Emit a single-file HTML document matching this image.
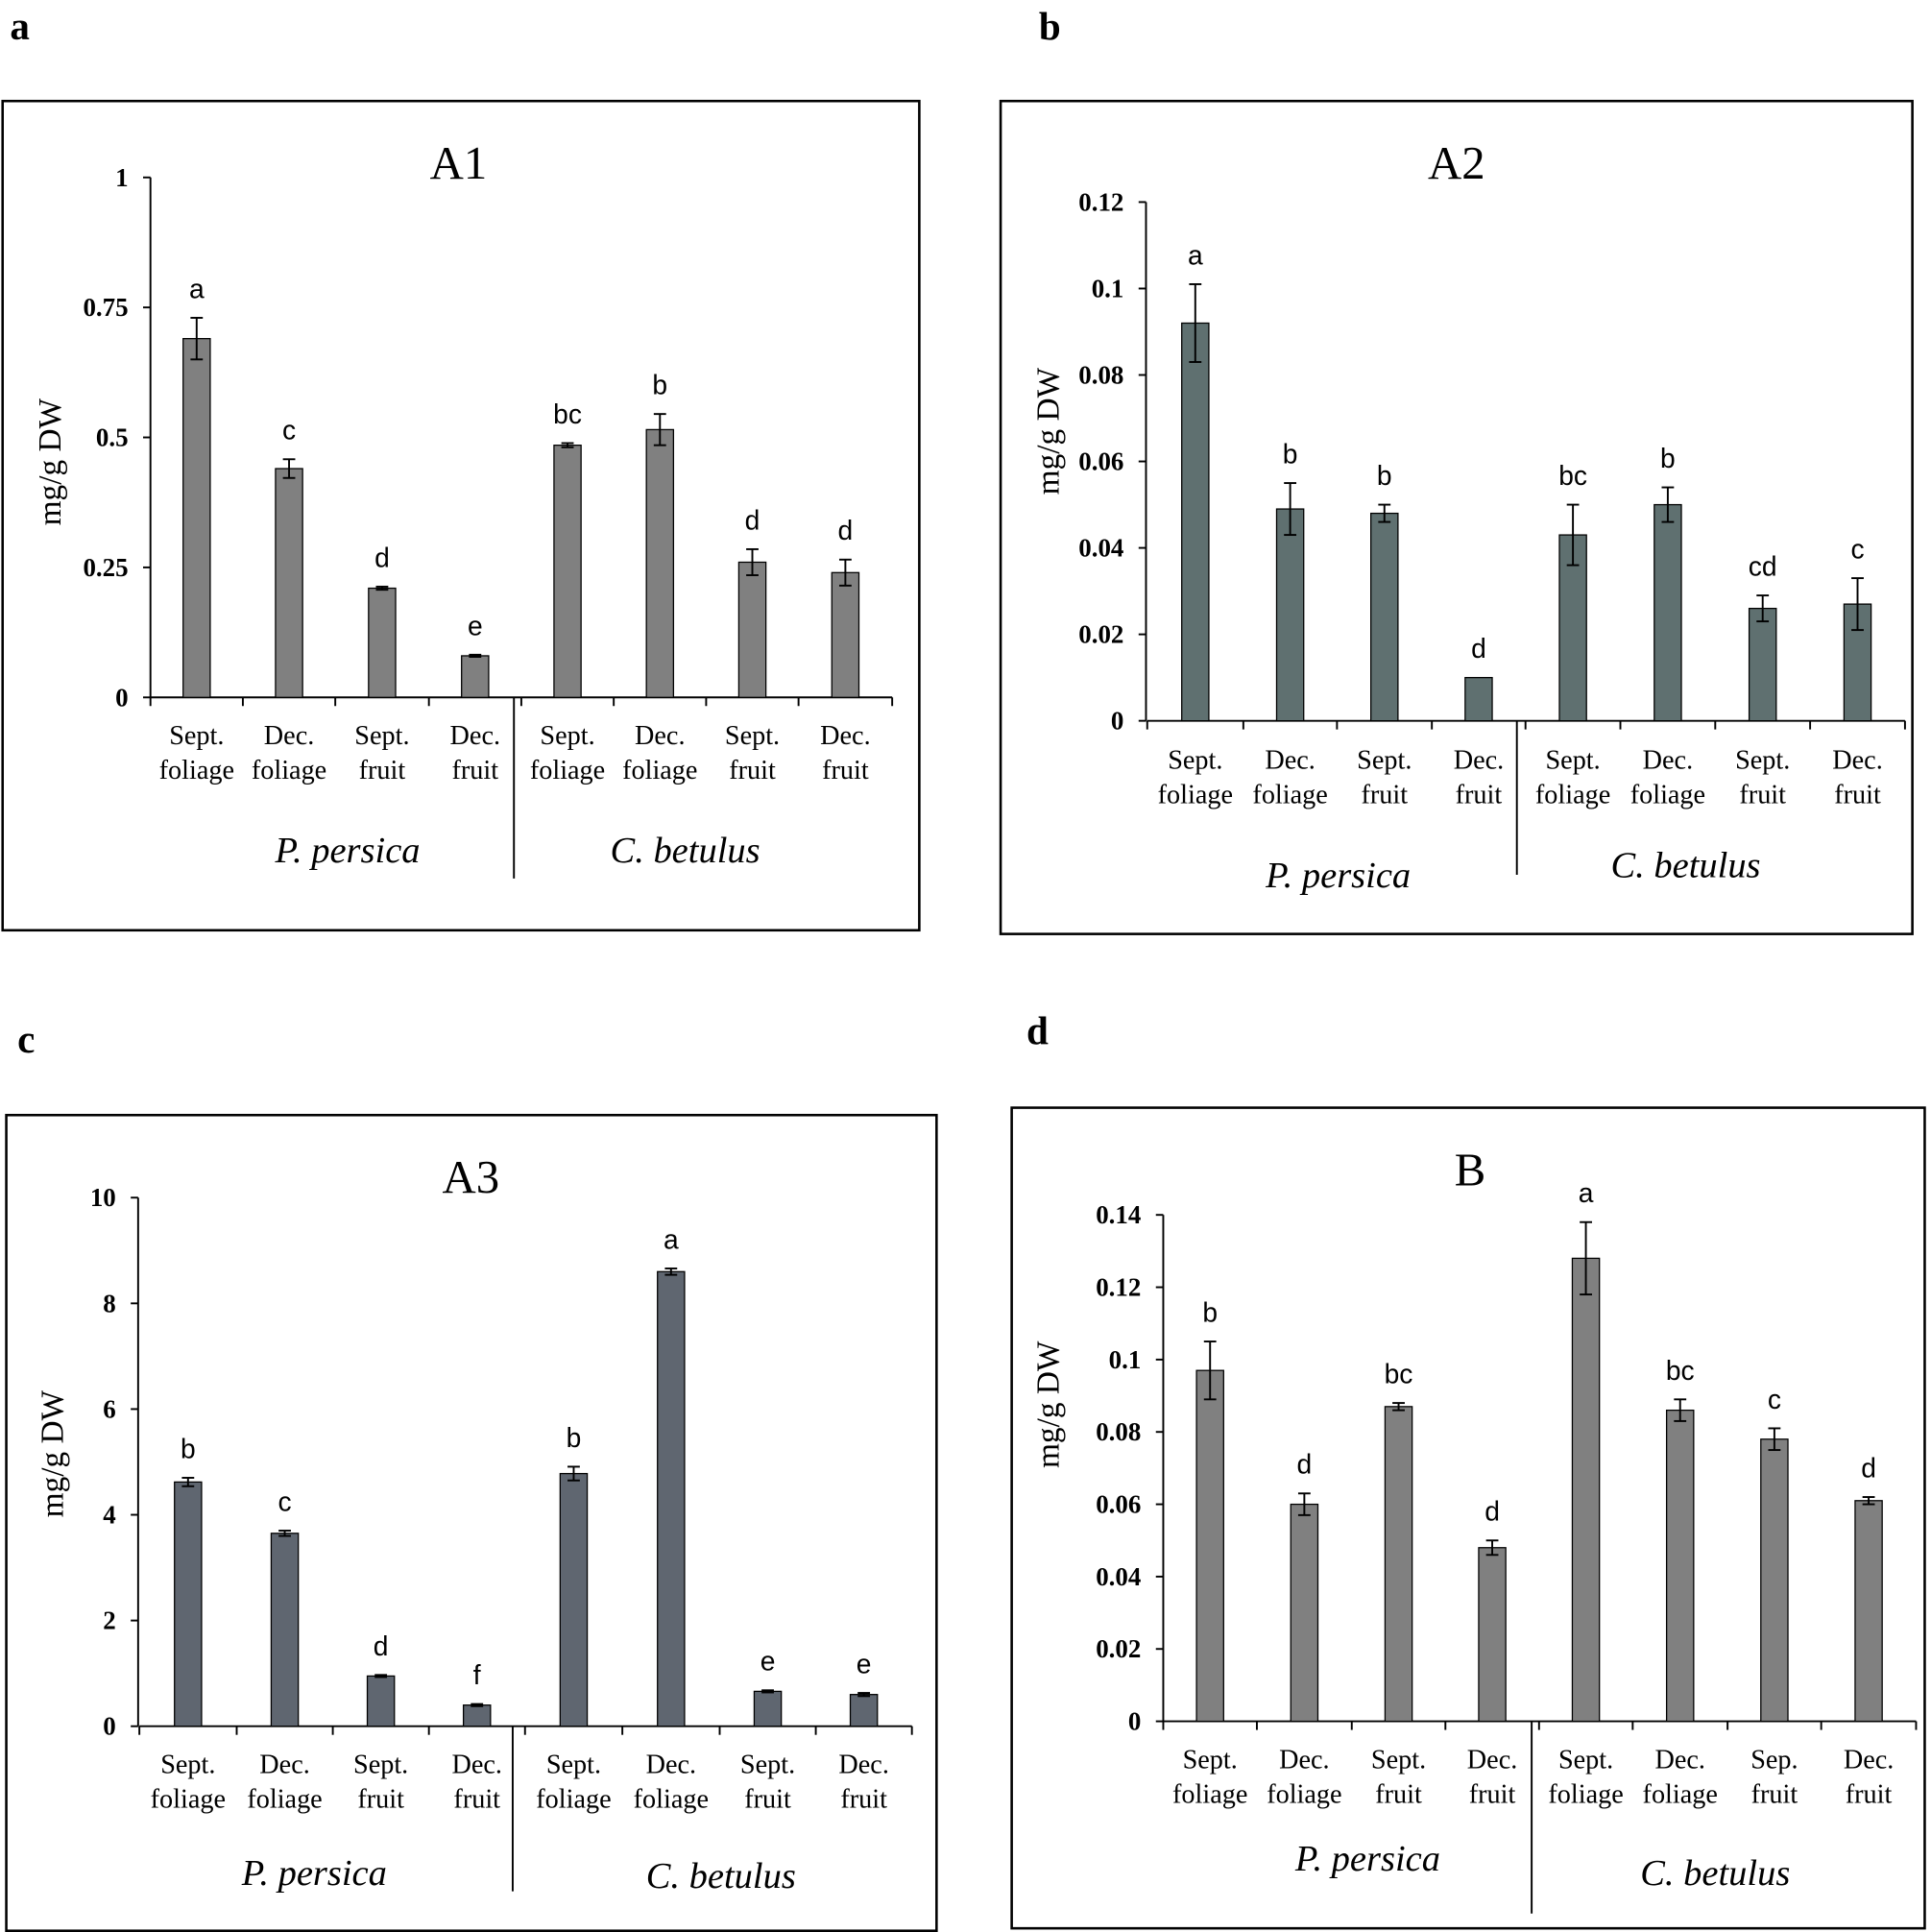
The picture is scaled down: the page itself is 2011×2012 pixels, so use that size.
<!DOCTYPE html>
<html><head><meta charset="utf-8"><style>
html,body{margin:0;padding:0;background:#fff;}
svg{display:block;}
text{font-family:"Liberation Serif",serif;fill:#000;}
.tk{font-weight:bold;font-size:21px;text-anchor:end;}
.cat{font-size:22px;text-anchor:middle;}
.let{font-family:"Liberation Sans",sans-serif;font-size:22px;text-anchor:middle;}
.sp{font-style:italic;font-size:30px;text-anchor:middle;}
.ttl{font-size:38px;text-anchor:middle;}
.pl{font-weight:bold;font-size:32px;}
.yl{font-size:26px;text-anchor:middle;}
</style></head><body>
<svg id="s" width="2011" height="2012" viewBox="0 0 1567 1568" xmlns="http://www.w3.org/2000/svg"></svg>
<script>
const s=document.getElementById('s');let h='';
const P=[
{box:[2,82,746,755],ax:122,y0:566,ytop:144,vmax:1,ticks:[[1,'1'],[.75,'0.75'],[.5,'0.5'],[.25,'0.25'],[0,'0']],
 b:[122,197,272,348,423,498,573,648,724],color:'#808080',
 v:[[.69,.04,'a'],[.44,.018,'c'],[.21,.003,'d'],[.08,.002,'e'],[.485,.004,'bc'],[.515,.03,'b'],[.26,.025,'d'],[.24,.025,'d']],
 ly:[596,624],spy:[690,690],spx:[282,556],sep:[417,566,713],title:['A1',372,145],ylab:[40,375],
 cats:['Sept.|foliage','Dec.|foliage','Sept.|fruit','Dec.|fruit','Sept.|foliage','Dec.|foliage','Sept.|fruit','Dec.|fruit']},
{box:[812,82,1552,758],ax:930,y0:585,ytop:164,vmax:.12,ticks:[[.12,'0.12'],[.1,'0.1'],[.08,'0.08'],[.06,'0.06'],[.04,'0.04'],[.02,'0.02'],[0,'0']],
 b:[931,1009,1085,1162,1238,1315,1392,1469,1546],color:'#5f7070',
 v:[[.092,.009,'a'],[.049,.006,'b'],[.048,.002,'b'],[.01,0,'d'],[.043,.007,'bc'],[.05,.004,'b'],[.026,.003,'cd'],[.027,.006,'c']],
 ly:[616,644],spy:[710,702],spx:[1086,1368],sep:[1231,585,710],title:['A2',1182,145],ylab:[850,350],
 cats:['Sept.|foliage','Dec.|foliage','Sept.|fruit','Dec.|fruit','Sept.|foliage','Dec.|foliage','Sept.|fruit','Dec.|fruit']},
{box:[5,905,760,1567],ax:112,y0:1401,ytop:972,vmax:10,ticks:[[10,'10'],[8,'8'],[6,'6'],[4,'4'],[2,'2'],[0,'0']],
 b:[113,192,270,348,426,505,584,662,740],color:'#5f6670',
 v:[[4.62,.08,'b'],[3.65,.05,'c'],[.95,.02,'d'],[.4,.02,'f'],[4.78,.13,'b'],[8.6,.06,'a'],[.66,.02,'e'],[.6,.03,'e']],
 ly:[1431,1459],spy:[1520,1522],spx:[255,585],sep:[416,1401,1535],title:['A3',382,968],ylab:[42,1180],
 cats:['Sept.|foliage','Dec.|foliage','Sept.|fruit','Dec.|fruit','Sept.|foliage','Dec.|foliage','Sept.|fruit','Dec.|fruit']},
{box:[821,899,1562,1565],ax:944,y0:1397,ytop:986,vmax:.14,ticks:[[.14,'0.14'],[.12,'0.12'],[.1,'0.1'],[.08,'0.08'],[.06,'0.06'],[.04,'0.04'],[.02,'0.02'],[0,'0']],
 b:[944,1020,1097,1173,1249,1325,1402,1478,1555],color:'#808080',
 v:[[.097,.008,'b'],[.06,.003,'d'],[.087,.001,'bc'],[.048,.002,'d'],[.128,.01,'a'],[.086,.003,'bc'],[.078,.003,'c'],[.061,.001,'d']],
 ly:[1427,1455],spy:[1508,1520],spx:[1110,1392],sep:[1243,1397,1553],title:['B',1193,962],ylab:[850,1140],
 cats:['Sept.|foliage','Dec.|foliage','Sept.|fruit','Dec.|fruit','Sept.|foliage','Dec.|foliage','Sep.|fruit','Dec.|fruit']}
];
for(const p of P){
 const [x1,y1,x2,y2]=p.box;
 h+=`<rect x="${x1}" y="${y1}" width="${x2-x1}" height="${y2-y1}" fill="none" stroke="#000" stroke-width="2"/>`;
 const Y=v=>p.y0-(p.y0-p.ytop)*v/p.vmax;
 h+=`<line x1="${p.ax}" y1="${p.ytop}" x2="${p.ax}" y2="${p.y0}" stroke="#000" stroke-width="1.5"/>`;
 h+=`<line x1="${p.b[0]}" y1="${p.y0}" x2="${p.b[8]}" y2="${p.y0}" stroke="#000" stroke-width="1.5"/>`;
 for(const [v,l] of p.ticks){const y=Y(v);h+=`<line x1="${p.ax-6}" y1="${y}" x2="${p.ax}" y2="${y}" stroke="#000" stroke-width="1.5"/><text class="tk" x="${p.ax-18}" y="${y+7}">${l}</text>`;}
 p.b.forEach(x=>{h+=`<line x1="${x}" y1="${p.y0}" x2="${x}" y2="${p.y0+7}" stroke="#000" stroke-width="1.5"/>`;});
 p.v.forEach((d,i)=>{
  const cx=(p.b[i]+p.b[i+1])/2,[v,e,l]=d,yt=Y(v);
  h+=`<rect x="${cx-11}" y="${yt}" width="22" height="${p.y0-yt}" fill="${p.color}" stroke="#000" stroke-width="1"/>`;
  const ya=Y(v+e),yb=Y(v-e);
  if(e>0)h+=`<line x1="${cx}" y1="${ya}" x2="${cx}" y2="${yb}" stroke="#000" stroke-width="1.5"/><line x1="${cx-5}" y1="${ya}" x2="${cx+5}" y2="${ya}" stroke="#000" stroke-width="1.5"/><line x1="${cx-5}" y1="${yb}" x2="${cx+5}" y2="${yb}" stroke="#000" stroke-width="1.5"/>`;
  h+=`<text class="let" x="${cx}" y="${ya-16}">${l}</text>`;
  const [a,b]=p.cats[i].split('|');
  h+=`<text class="cat" x="${cx}" y="${p.ly[0]+8}">${a}</text><text class="cat" x="${cx}" y="${p.ly[1]+8}">${b}</text>`;
 });
 h+=`<line x1="${p.sep[0]}" y1="${p.sep[1]}" x2="${p.sep[0]}" y2="${p.sep[2]}" stroke="#000" stroke-width="1.5"/>`;
 h+=`<text class="sp" x="${p.spx[0]}" y="${p.spy[0]+10}">P. persica</text>`;
 h+=`<text class="sp" x="${p.spx[1]}" y="${p.spy[1]+10}">C. betulus</text>`;
 h+=`<text class="ttl" x="${p.title[1]}" y="${p.title[2]}">${p.title[0]}</text>`;
 h+=`<text class="yl" transform="translate(${p.ylab[0]+9},${p.ylab[1]}) rotate(-90)">mg/g DW</text>`;
}
h+=`<text class="pl" x="8" y="32">a</text><text class="pl" x="843" y="32">b</text><text class="pl" x="14" y="854">c</text><text class="pl" x="833" y="847">d</text>`;
s.innerHTML=h;
</script>
</body></html>
